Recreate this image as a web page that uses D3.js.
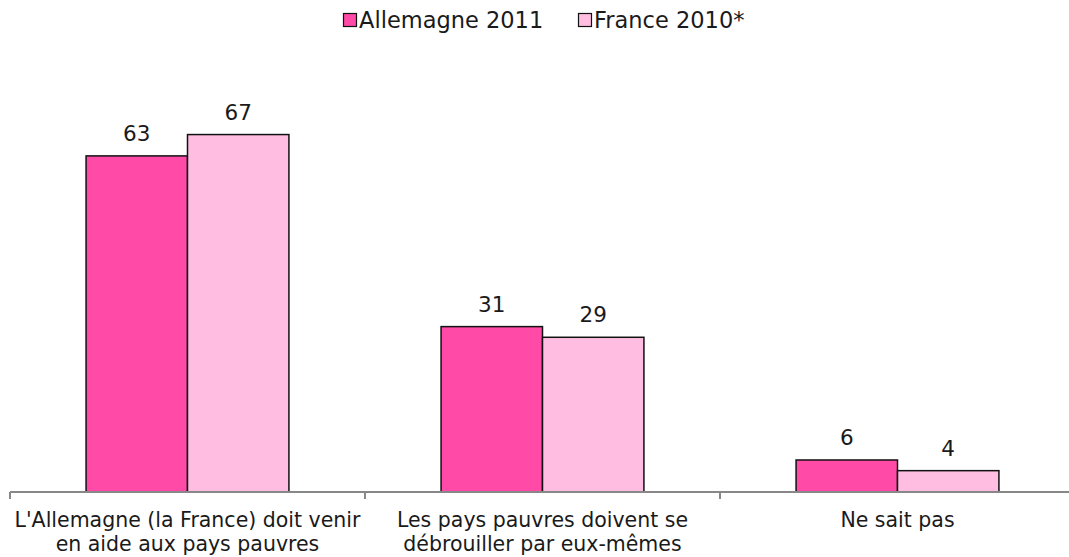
<!DOCTYPE html>
<html>
<head>
<meta charset="utf-8">
<script src="https://cdn.jsdelivr.net/npm/d3@7"></script>
<style>
  body { margin: 0; background: #fff; }
  text { font-family: "DejaVu Sans", Verdana, sans-serif; fill: #1a1a1a; }
</style>
</head>
<body>
<div class="chart"></div>
<script>
const WIDTH = 1069;
const HEIGHT = 557;

var categories = [
  ["L'Allemagne (la France) doit venir", "en aide aux pays pauvres"],
  ["Les pays pauvres doivent se", "débrouiller par eux-mêmes"],
  ["Ne sait pas"]
];
var series = ["Allemagne 2011", "France 2010*"];
var allemagne = [63, 31, 6];
var france = [67, 29, 4];
var colors = ["#ff4aa8", "#ffbee1"];

var translate = function(x, y){
  return "translate(" + x + "," + y + ")";
};

var svg = d3.select(".chart").append("svg")
  .attr("width", WIDTH)
  .attr("height", HEIGHT);

var keys = categories.map(function(c){ return c.join(" "); });
var values = [allemagne, france];

var x0 = d3.scaleBand().domain(keys).range([10, 1075]).padding(0);
var x1 = d3.scaleBand().domain(series).range([0, x0.bandwidth()])
  .paddingInner(0).paddingOuter(0.75);
var y = d3.scaleLinear().domain([0, 80]).range([492, 65.2]);

// bars
var groups = svg.selectAll(".group")
  .data(keys)
  .enter().append("g")
  .attr("transform", function(d){ return translate(x0(d), 0); });

groups.selectAll("rect")
  .data(function(d, i){ return series.map(function(s, j){ return {s: s, v: values[j][i], j: j}; }); })
  .enter().append("rect")
  .attr("x", function(d){ return x1(d.s); })
  .attr("y", function(d){ return y(d.v); })
  .attr("width", x1.bandwidth())
  .attr("height", function(d){ return y(0) - y(d.v); })
  .style("fill", function(d){ return colors[d.j]; })
  .style("stroke", "#111")
  .style("stroke-width", 1.5);

groups.selectAll(".val")
  .data(function(d, i){ return series.map(function(s, j){ return {s: s, v: values[j][i]}; }); })
  .enter().append("text")
  .attr("x", function(d){ return x1(d.s) + x1.bandwidth() / 2; })
  .attr("y", function(d){ return y(d.v) - 15; })
  .attr("text-anchor", "middle")
  .style("font-size", "21.5px")
  .text(function(d){ return d.v; });

// x axis
var xAxis = d3.axisBottom(x0).tickSize(0).tickFormat("");
var axisG = svg.append("g")
  .attr("transform", translate(0, 492))
  .call(xAxis);
axisG.select(".domain").remove();
axisG.append("line")
  .attr("x1", 10).attr("x2", 1075)
  .style("stroke", "#888").style("stroke-width", 2);
axisG.selectAll(".sep")
  .data(keys.concat([null]))
  .enter().append("line")
  .attr("x1", function(d){ return d === null ? 1075 : x0(d); })
  .attr("x2", function(d){ return d === null ? 1075 : x0(d); })
  .attr("y1", 0).attr("y2", 7)
  .style("stroke", "#888").style("stroke-width", 2);

svg.selectAll(".cat")
  .data(categories)
  .enter().append("text")
  .attr("text-anchor", "middle")
  .style("font-size", "20.5px")
  .attr("x", function(d, i){ return x0(keys[i]) + x0.bandwidth() / 2; })
  .attr("y", 527)
  .selectAll("tspan")
  .data(function(d){ return d; })
  .enter().append("tspan")
  .attr("x", function(){ var p = this.parentNode; return p.getAttribute("x"); })
  .attr("dy", function(d, i){ return i === 0 ? 0 : 23.5; })
  .text(function(d){ return d; });

// legend
var legendX = [343.5, 578.5];
var legend = svg.selectAll(".legend")
  .data(series)
  .enter().append("g")
  .attr("transform", function(d, i){ return translate(legendX[i], 0); });
legend.append("rect")
  .attr("x", 0).attr("y", 13.5)
  .attr("width", 13).attr("height", 13)
  .style("fill", function(d, i){ return colors[i]; })
  .style("stroke", "#111").style("stroke-width", 1.2);
legend.append("text")
  .attr("x", 15.5).attr("y", 28)
  .style("font-size", "22.5px")
  .text(function(d){ return d; });
</script>
</body>
</html>
